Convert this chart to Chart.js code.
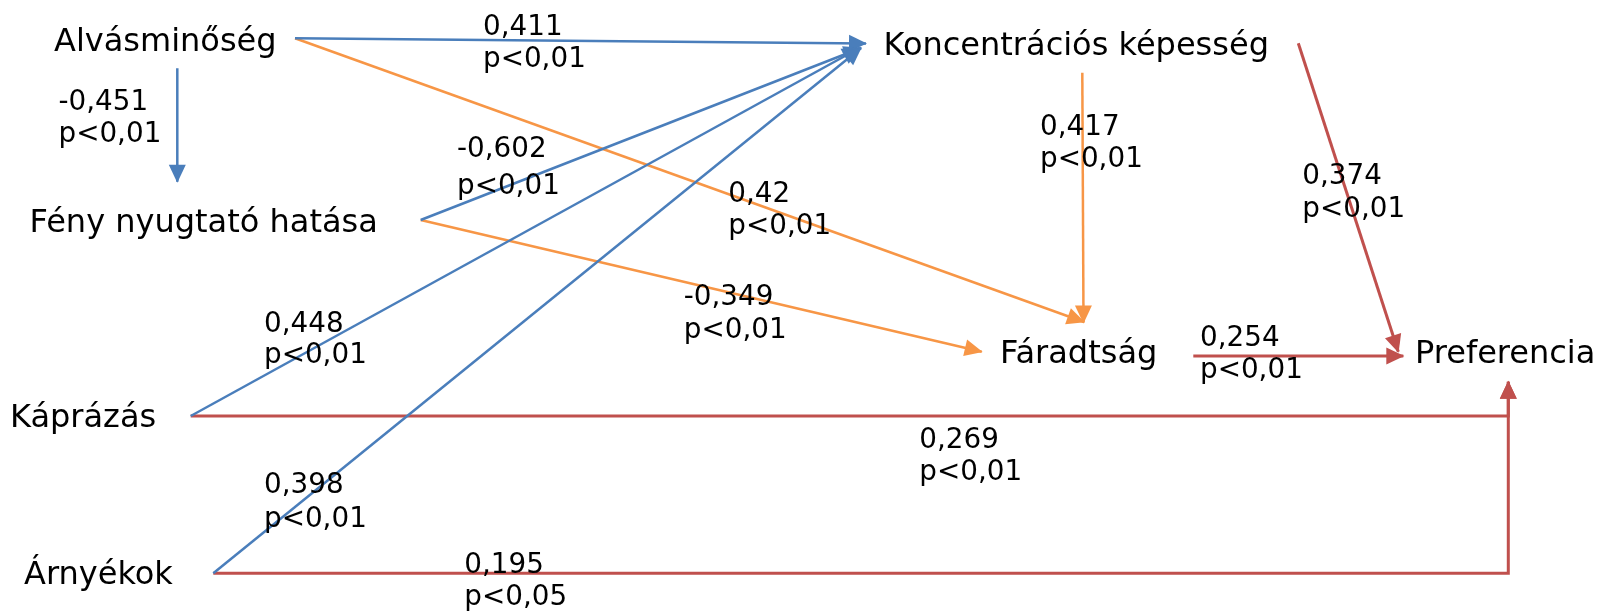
<!DOCTYPE html>
<html>
<head>
<meta charset="utf-8">
<script src="https://cdn.jsdelivr.net/npm/chart.js@4.4.1/dist/chart.umd.min.js"></script>
<style>
  html, body { margin: 0; padding: 0; background: #ffffff; }
  canvas { display: block; }
</style>
</head>
<body>
<canvas id="pathModel" width="1599" height="612"></canvas>
<script>
// Variables of the path model
const nodeNames = [
  'Alvásminőség',
  'Fény nyugtató hatása',
  'Koncentrációs képesség',
  'Fáradtság',
  'Preferencia',
  'Káprázás',
  'Árnyékok'
];

// Paths: source, target, standardised coefficient and significance
const pathFrom = [
  'Alvásminőség', 'Alvásminőség', 'Fény nyugtató hatása', 'Káprázás', 'Árnyékok',
  'Alvásminőség', 'Fény nyugtató hatása', 'Koncentrációs képesség',
  'Koncentrációs képesség', 'Fáradtság', 'Káprázás', 'Árnyékok'
];
const pathTo = [
  'Koncentrációs képesség', 'Fény nyugtató hatása', 'Koncentrációs képesség', 'Koncentrációs képesség', 'Koncentrációs képesség',
  'Fáradtság', 'Fáradtság', 'Fáradtság',
  'Preferencia', 'Preferencia', 'Preferencia', 'Preferencia'
];
const pathCoefficients = [
  '0,411', '-0,451', '-0,602', '0,448', '0,398',
  '0,42', '-0,349', '0,417',
  '0,374', '0,254', '0,269', '0,195'
];
const pathSignificance = [
  'p<0,01', 'p<0,01', 'p<0,01', 'p<0,01', 'p<0,01',
  'p<0,01', 'p<0,01', 'p<0,01',
  'p<0,01', 'p<0,01', 'p<0,01', 'p<0,05'
];

// ---- Diagram layout (in diagram units: x 0..1599, y 0..612 from the top) ----
const nodeAnchors = {
  'Alvásminőség':           [54, 50.7],
  'Fény nyugtató hatása':   [29.5, 231.7],
  'Koncentrációs képesség': [883.5, 55],
  'Fáradtság':              [1000, 363.3],
  'Preferencia':            [1415, 363.3],
  'Káprázás':               [10, 426.7],
  'Árnyékok':               [24, 584]
};

// Route of every arrow (last point is the arrow tip)
const pathRoutes = [
  [[295, 38.3], [866, 43.5]],
  [[177.3, 68.3], [177.3, 181.7]],
  [[420.7, 220], [861, 48]],
  [[190.7, 416], [859.5, 48]],
  [[213.3, 573.3], [861, 48]],
  [[295, 38.3], [1084, 322]],
  [[420.7, 220], [981.7, 351.7]],
  [[1082.3, 72.7], [1083.5, 322.5]],
  [[1298.3, 43.3], [1398.3, 351.7]],
  [[1193.3, 356], [1403.3, 356]],
  [[190.7, 416], [1508.3, 416], [1508.3, 381.7]],
  [[213.3, 573.3], [1508.3, 573.3], [1508.3, 381.7]]
];

// Coefficient label placement: left x, baseline of first line, baseline of second line
const labelAnchors = [
  [483, 35, 66.7],
  [58.5, 110, 141.7],
  [457, 156.7, 194],
  [264, 331.7, 363.3],
  [264, 493.3, 526.7],
  [728.3, 201.7, 234],
  [683.8, 305, 338.3],
  [1040, 135, 166.7],
  [1302.3, 184.3, 216.7],
  [1200, 346, 378.3],
  [919.3, 447.7, 480],
  [464.3, 573.3, 605]
];

// Arrow colour by the target variable
const targetColours = {
  'Koncentrációs képesség': '#4a7ebb',
  'Fény nyugtató hatása':   '#4a7ebb',
  'Fáradtság':              '#f79646',
  'Preferencia':            '#c0504d'
};

const datasets = pathRoutes.map((route, i) => {
  const colour = targetColours[pathTo[i]];
  return {
    label: pathFrom[i] + ' → ' + pathTo[i],
    data: route.map(p => ({ x: p[0], y: p[1] })),
    showLine: true,
    borderColor: colour,
    backgroundColor: colour,
    borderWidth: colour === '#c0504d' ? 3 : 2.5,
    borderJoinStyle: 'miter',
    pointRadius: 0,
    pointHoverRadius: 0,
    tension: 0,
    fill: false,
    order: colour === '#c0504d' ? 3 : (colour === '#f79646' ? 2 : 1)
  };
});

// Filled arrowheads at the end of every path
const arrowheads = {
  id: 'arrowheads',
  afterDatasetsDraw(chart) {
    const ctx = chart.ctx;
    chart.data.datasets.forEach((ds, i) => {
      const pts = chart.getDatasetMeta(i).data;
      const a = pts[pts.length - 2];
      const b = pts[pts.length - 1];
      const ang = Math.atan2(b.y - a.y, b.x - a.x);
      const len = 17, half = 8.5;
      ctx.save();
      ctx.translate(b.x, b.y);
      ctx.rotate(ang);
      ctx.beginPath();
      ctx.moveTo(1, 0);
      ctx.lineTo(-len, -half);
      ctx.lineTo(-len, half);
      ctx.closePath();
      ctx.fillStyle = ds.borderColor;
      ctx.fill();
      ctx.restore();
    });
  }
};

// Variable names and coefficient labels
const diagramText = {
  id: 'diagramText',
  afterDraw(chart) {
    const ctx = chart.ctx;
    const xs = chart.scales.x, ys = chart.scales.y;
    ctx.save();
    ctx.fillStyle = '#000000';
    ctx.textAlign = 'left';
    ctx.textBaseline = 'alphabetic';
    ctx.font = '32px "DejaVu Sans"';
    nodeNames.forEach(name => {
      const [x, y] = nodeAnchors[name];
      ctx.fillText(name, xs.getPixelForValue(x), ys.getPixelForValue(y));
    });
    ctx.font = '27.8px "DejaVu Sans"';
    pathCoefficients.forEach((coef, i) => {
      const [x, y1, y2] = labelAnchors[i];
      const px = xs.getPixelForValue(x);
      ctx.fillText(coef, px, ys.getPixelForValue(y1));
      ctx.fillText(pathSignificance[i], px, ys.getPixelForValue(y2));
    });
    ctx.restore();
  }
};

new Chart(document.getElementById('pathModel'), {
  type: 'scatter',
  data: { datasets },
  options: {
    responsive: false,
    animation: false,
    devicePixelRatio: 1,
    layout: { padding: 0 },
    events: [],
    scales: {
      x: { type: 'linear', min: 0, max: 1599, display: false },
      y: { type: 'linear', min: 0, max: 612, reverse: true, display: false }
    },
    plugins: {
      legend: { display: false },
      tooltip: { enabled: false },
      title: { display: false }
    }
  },
  plugins: [arrowheads, diagramText]
});
</script>
</body>
</html>
